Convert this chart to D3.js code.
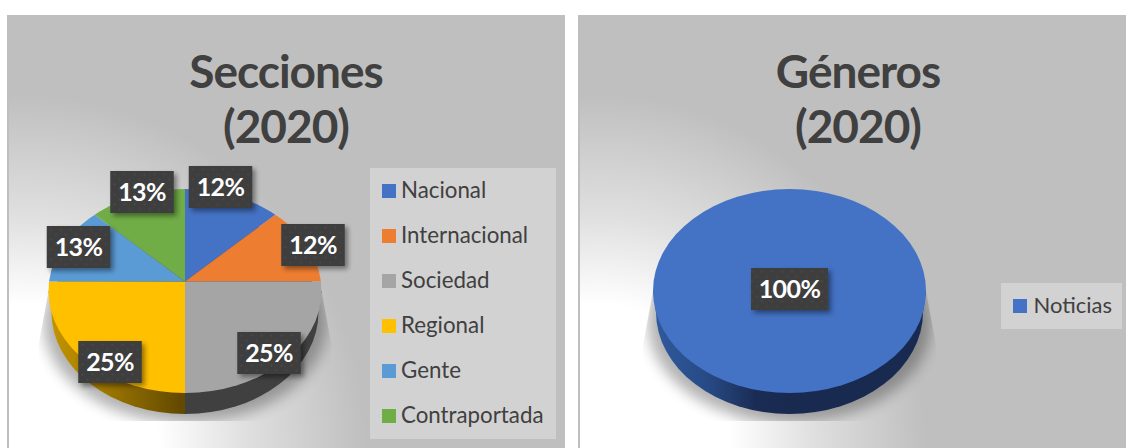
<!DOCTYPE html>
<html><head><meta charset="utf-8">
<script src="https://cdn.jsdelivr.net/npm/d3@7"></script>
<style>html,body{margin:0;padding:0;background:#fff}svg{display:block}text{font-family:Lato,"Open Sans",sans-serif}</style>
</head><body><svg id="c" width="1126" height="448"></svg>
<script>
// Data
const seccionesCategories = ["Nacional","Internacional","Sociedad","Regional","Gente","Contraportada"];
const seccionesValues = [12.5,12.5,25,25,12.5,12.5];
const seccionesLabels = ["12%","12%","25%","25%","13%","13%"];
const seccionesColors = ["#4472c4","#ed7d31","#a5a5a5","#ffc000","#5b9bd5","#70ad47"];
const generosCategories = ["Noticias"];
const generosValues = [100];
const generosLabels = ["100%"];
const generosColors = ["#4472c4"];

// Layout
const charts = [
 {id:"a",title:["Secciones","(2020)"],cats:seccionesCategories,vals:seccionesValues,labels:seccionesLabels,colors:seccionesColors,
  x:7,w:558,cx:185,apexY:281.5,ellY:291,titleX:286,grad:[20,445,345,350],
  offs:[[35.5,-94.5],[128,-36.5],[84,71.5],[-75,80.5],[-106.5,-34.5],[-43,-89.5]],
  legend:{x:370,y:168,w:186,h:271,sx:382,cy:191,step:45,tx:401,ty:6.5,fs:22.3},
  side:[{fill:"sideY",x0:0,x1:185},{fill:"#404040",x0:185,x1:400}]},
 {id:"b",title:["Géneros","(2020)"],cats:generosCategories,vals:generosValues,labels:generosLabels,colors:generosColors,
  x:578,w:548,cx:789.5,apexY:291,ellY:291,titleX:858,grad:[600,445,325,350],
  offs:[[0,-2]],
  legend:{x:1001,y:283,w:121,h:46,sx:1013,cy:306,step:45,tx:1033.5,ty:6.5,fs:22},
  side:[{fill:"sideB",x0:578,x1:1126}]}
];
const RX=136.5, RY=102, DEPTH=21, PERSP=0.74, SIDE_INSET=3, SHADOW_BOTTOM=421;

const svg=d3.select("#c");
const defs=svg.append("defs");
const blur=(id,s)=>defs.append("filter").attr("id",id).attr("x","-30%").attr("y","-30%").attr("width","160%").attr("height","160%")
  .append("feGaussianBlur").attr("stdDeviation",s);
blur("bl6",7); blur("bl2",2.5);
const lin=(id,x1,x2,stops)=>{const g=defs.append("linearGradient").attr("id",id).attr("gradientUnits","userSpaceOnUse")
  .attr("x1",x1).attr("x2",x2).attr("y1",0).attr("y2",0);
  stops.forEach(s=>g.append("stop").attr("offset",s[0]).attr("stop-color",s[1]));};
lin("sideY",49,180,[[0,"#c49400"],[0.35,"#a67d00"],[1,"#634a00"]]);
lin("sideB",653,790,[[0,"#305a9e"],[0.4,"#274a85"],[0.75,"#1a2c54"],[1,"#182a50"]]);
const pat=defs.append("pattern").attr("id","dots").attr("patternUnits","userSpaceOnUse").attr("width",10).attr("height",10);
pat.append("rect").attr("width",10).attr("height",10).attr("fill","#3e3e3e");
pat.append("circle").attr("cx",2.5).attr("cy",2.5).attr("r",1).attr("fill","#4a4a4a");
pat.append("circle").attr("cx",7.5).attr("cy",7.5).attr("r",1).attr("fill","#474747");

charts.forEach(c=>{
  const g=svg.append("g");
  const rg=defs.append("radialGradient").attr("id","bg"+c.id).attr("gradientUnits","userSpaceOnUse")
    .attr("cx",0).attr("cy",0).attr("r",1)
    .attr("gradientTransform",`translate(${c.grad[0]},${c.grad[1]}) scale(${c.grad[2]},${c.grad[3]})`);
  [[0,"#ffffff"],[0.4,"#ffffff"],[0.65,"#e0e0e0"],[1,"#bfbfbf"]].forEach(s=>rg.append("stop").attr("offset",s[0]).attr("stop-color",s[1]));
  g.append("rect").attr("x",c.x).attr("y",15).attr("width",c.w).attr("height",433).attr("fill","url(#bg"+c.id+")");
  g.append("rect").attr("x",c.x).attr("y",15).attr("width",2).attr("height",433).attr("fill","#bfbfbf");

  // titles
  g.selectAll(".t").data(c.title).join("text").attr("x",c.titleX).attr("y",(d,i)=>88+i*55)
    .attr("text-anchor","middle").attr("font-size",46).attr("font-weight",700).attr("letter-spacing",-1).attr("fill","#404040").text(d=>d);

  // shadow, held inside a flared outline below the pie
  const cs="sh"+c.id, e=c.ellY;
  const flare=[[c.cx-RX,e],[c.cx-RX-10,e+54],[c.cx-RX-10,SHADOW_BOTTOM],[c.cx+RX+10,SHADOW_BOTTOM],[c.cx+RX+10,e+54],[c.cx+RX,e]];
  defs.append("clipPath").attr("id",cs).append("path").attr("d",d3.line()(flare)+"Z");
  g.append("g").attr("clip-path",`url(#${cs})`)
   .append("ellipse").attr("cx",c.cx).attr("cy",c.ellY+32).attr("rx",RX+5).attr("ry",RY-2)
   .attr("fill","#000").attr("opacity",.3).attr("filter","url(#bl6)");

  // side wall
  c.side.forEach((s,i)=>{
    const id="sd"+c.id+i;
    defs.append("clipPath").attr("id",id).append("rect").attr("x",s.x0).attr("y",0).attr("width",s.x1-s.x0).attr("height",448);
    const f=s.fill.startsWith("#")?s.fill:`url(#${s.fill})`;
    const sg=g.append("g").attr("clip-path",`url(#${id})`);
    const hull=[[c.cx-RX,e],[c.cx+RX,e],[c.cx+RX-SIDE_INSET,e+DEPTH],[c.cx-RX+SIDE_INSET,e+DEPTH]];
    sg.append("path").attr("d",d3.line()(hull)+"Z").attr("fill",f);
    sg.append("ellipse").attr("cx",c.cx).attr("cy",e+DEPTH).attr("rx",RX-SIDE_INSET).attr("ry",RY).attr("fill",f);
  });

  // top face
  const ct="top"+c.id;
  defs.append("clipPath").attr("id",ct).append("ellipse").attr("cx",c.cx).attr("cy",c.ellY).attr("rx",RX).attr("ry",RY);
  const top=g.append("g").attr("clip-path",`url(#${ct})`)
    .append("g").attr("transform",`translate(${c.cx},${c.apexY}) scale(1,${PERSP})`);
  const pie=d3.pie().sort(null)(c.vals);
  const arc=d3.arc().innerRadius(0).outerRadius(400);
  top.selectAll("path").data(pie).join("path").attr("d",arc).attr("fill",(d,i)=>c.colors[i]);

  // legend
  g.append("rect").attr("x",c.legend.x).attr("y",c.legend.y).attr("width",c.legend.w).attr("height",c.legend.h).attr("fill","#fff").attr("opacity",.3);
  const li=g.selectAll(".li").data(c.cats).join("g").attr("transform",(d,i)=>`translate(0,${c.legend.cy+i*c.legend.step})`);
  li.append("rect").attr("x",c.legend.sx).attr("y",-7).attr("width",14).attr("height",14).attr("fill",(d,i)=>c.colors[i]);
  li.append("text").attr("x",c.legend.tx).attr("y",c.legend.ty).attr("font-size",c.legend.fs).attr("fill","#404040").text(d=>d);

  // data labels
  const lab=g.selectAll(".lab").data(c.labels).join("g")
    .attr("transform",(d,i)=>`translate(${c.cx+c.offs[i][0]},${c.apexY+c.offs[i][1]})`);
  const bw=c.id==="a"?63.5:77;
  lab.append("rect").attr("x",-bw/2+3).attr("y",-21+3).attr("width",bw).attr("height",42).attr("fill","#000").attr("opacity",.42).attr("filter","url(#bl2)");
  lab.append("rect").attr("x",-bw/2).attr("y",-21).attr("width",bw).attr("height",42).attr("fill","url(#dots)");
  lab.append("text").attr("y",9).attr("text-anchor","middle").attr("font-size",25).attr("font-weight",700).attr("letter-spacing",-0.6).attr("fill","#fff").text(d=>d);
});
</script></body></html>
